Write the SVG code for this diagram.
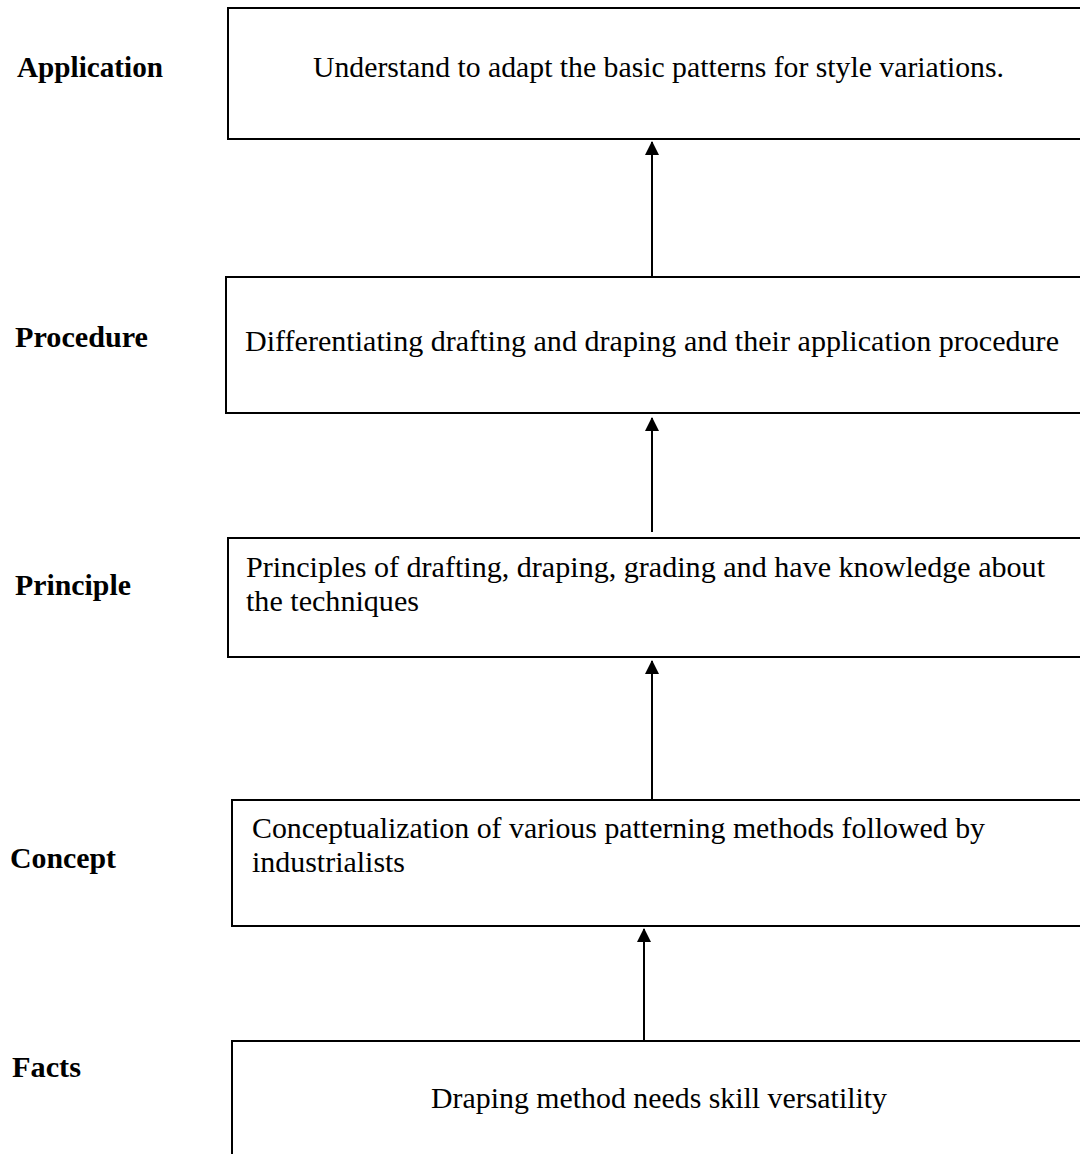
<svg xmlns="http://www.w3.org/2000/svg" width="1080" height="1154" viewBox="0 0 1080 1154">
<style>
.box{fill:#fff;stroke:#000;stroke-width:2}
.t{font-family:"Liberation Serif","Times New Roman",serif;font-size:29px;fill:#000}
.l{font-family:"Liberation Serif","Times New Roman",serif;font-size:29px;font-weight:bold;fill:#000}
.c{stroke:#000;stroke-width:2;fill:none;marker-end:url(#ah)}
</style>
<defs>
<marker id="ah" markerWidth="14" markerHeight="14" refX="13" refY="7" orient="auto" markerUnits="userSpaceOnUse" viewBox="0 0 14 14">
<path d="M0,0 L14,7 L0,14 Z" fill="#000"/>
</marker>
</defs>
<rect width="1080" height="1154" fill="#fff"/>
<g id="labels">
<text class="l" x="17" y="77" textLength="146" lengthAdjust="spacingAndGlyphs">Application</text>
<text class="l" x="15" y="347" textLength="133" lengthAdjust="spacingAndGlyphs">Procedure</text>
<text class="l" x="15" y="595" textLength="116" lengthAdjust="spacingAndGlyphs">Principle</text>
<text class="l" x="10" y="868" textLength="106" lengthAdjust="spacingAndGlyphs">Concept</text>
<text class="l" x="12" y="1077" textLength="69" lengthAdjust="spacingAndGlyphs">Facts</text>
</g>
<g id="node-application">
<rect class="box" x="228" y="8" width="860" height="131"/>
<text class="t" x="313" y="77" textLength="691" lengthAdjust="spacingAndGlyphs">Understand to adapt the basic patterns for style variations.</text>
</g>
<g id="node-procedure">
<rect class="box" x="226" y="277" width="862" height="136"/>
<text class="t" x="245" y="351" textLength="814" lengthAdjust="spacingAndGlyphs">Differentiating drafting and draping and their application procedure</text>
</g>
<g id="node-principle">
<rect class="box" x="228" y="538" width="860" height="119"/>
<text class="t" x="246" y="577" textLength="799" lengthAdjust="spacingAndGlyphs">Principles of drafting, draping, grading and have knowledge about</text>
<text class="t" x="246" y="611" textLength="173" lengthAdjust="spacingAndGlyphs">the techniques</text>
</g>
<g id="node-concept">
<rect class="box" x="232" y="800" width="856" height="126"/>
<text class="t" x="252" y="838" textLength="733" lengthAdjust="spacingAndGlyphs">Conceptualization of various patterning methods followed by</text>
<text class="t" x="252" y="872" textLength="153" lengthAdjust="spacingAndGlyphs">industrialists</text>
</g>
<g id="node-facts">
<rect class="box" x="232" y="1041" width="856" height="130"/>
<text class="t" x="431" y="1108" textLength="456" lengthAdjust="spacingAndGlyphs">Draping method needs skill versatility</text>
</g>
<g id="connectors">
<line class="c" x1="652" y1="277" x2="652" y2="142"/>
<line class="c" x1="652" y1="532" x2="652" y2="418"/>
<line class="c" x1="652" y1="800" x2="652" y2="661"/>
<line class="c" x1="644" y1="1041" x2="644" y2="929"/>
</g>
</svg>
